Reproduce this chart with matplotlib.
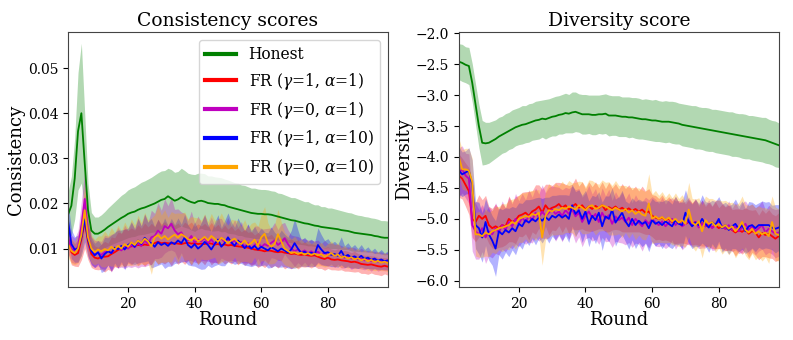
import numpy as np
import matplotlib
matplotlib.use("Agg")
import matplotlib.pyplot as plt

plt.rcParams['font.family'] = ['DejaVu Serif']
plt.rcParams['mathtext.fontset'] = 'dejavuserif'

rounds = np.arange(2, 99)

labels = ['Honest', r'FR ($\gamma$=1, $\alpha$=1)', r'FR ($\gamma$=0, $\alpha$=1)',
          r'FR ($\gamma$=1, $\alpha$=10)', r'FR ($\gamma$=0, $\alpha$=10)']
colors = ['green', 'red', 'm', 'blue', 'orange']

# ---- consistency (mean / std per round) ----
cons_honest = [0.0175, 0.0195, 0.0255, 0.0360, 0.0400, 0.0290, 0.0185, 0.0140, 0.0133, 0.0133,
               0.0137, 0.0142, 0.0148, 0.0153, 0.0158, 0.0163, 0.0168, 0.0172, 0.0177, 0.0180,
               0.0182, 0.0186, 0.0189, 0.0191, 0.0194, 0.0197, 0.0200, 0.0204, 0.0208, 0.0210,
               0.0216, 0.0211, 0.0206, 0.0209, 0.0214, 0.0210, 0.0206, 0.0203, 0.0201, 0.0205,
               0.0206, 0.0204, 0.0201, 0.0200, 0.0199, 0.0199, 0.0197, 0.0196, 0.0193, 0.0191,
               0.0189, 0.0187, 0.0185, 0.0183, 0.0181, 0.0179, 0.0178, 0.0177, 0.0177, 0.0176,
               0.0176, 0.0175, 0.0173, 0.0171, 0.0169, 0.0167, 0.0165, 0.0163, 0.0162, 0.0160,
               0.0158, 0.0156, 0.0155, 0.0153, 0.0151, 0.0150, 0.0148, 0.0147, 0.0146, 0.0145,
               0.0144, 0.0143, 0.0141, 0.0140, 0.0139, 0.0137, 0.0135, 0.0134, 0.0133, 0.0132,
               0.0131, 0.0130, 0.0128, 0.0127, 0.0125, 0.0124, 0.0124]
cons_honest_sd = [0.0050, 0.0065, 0.0090, 0.0130, 0.0155, 0.0110, 0.0060, 0.0040, 0.0037, 0.0037,
                  0.0038, 0.0040, 0.0042, 0.0044, 0.0046, 0.0048, 0.0050, 0.0051, 0.0053, 0.0054,
                  0.0055, 0.0056, 0.0058, 0.0059, 0.0060, 0.0061, 0.0063, 0.0064, 0.0064, 0.0063,
                  0.0062, 0.0064, 0.0063, 0.0062, 0.0064, 0.0063, 0.0061, 0.0062, 0.0063, 0.0062,
                  0.0061, 0.0062, 0.0060, 0.0061, 0.0060, 0.0059, 0.0060, 0.0058, 0.0059, 0.0058,
                  0.0057, 0.0058, 0.0056, 0.0057, 0.0056, 0.0055, 0.0056, 0.0055, 0.0054, 0.0055,
                  0.0054, 0.0053, 0.0054, 0.0052, 0.0053, 0.0052, 0.0051, 0.0050, 0.0051, 0.0050,
                  0.0049, 0.0048, 0.0049, 0.0047, 0.0046, 0.0047, 0.0045, 0.0046, 0.0044, 0.0045,
                  0.0044, 0.0043, 0.0043, 0.0042, 0.0041, 0.0042, 0.0041, 0.0040, 0.0040, 0.0039,
                  0.0039, 0.0038, 0.0039, 0.0038, 0.0037, 0.0038, 0.0037]

cons_g1_a1 = [0.0120, 0.0092, 0.0086, 0.0090, 0.0120, 0.0160, 0.0115, 0.0088, 0.0080, 0.0078,
              0.0082, 0.0082, 0.0083, 0.0088, 0.0092, 0.0097, 0.0100, 0.0102, 0.0104, 0.0105,
              0.0106, 0.0108, 0.0107, 0.0109, 0.0108, 0.0110, 0.0112, 0.0115, 0.0112, 0.0113,
              0.0112, 0.0111, 0.0112, 0.0111, 0.0110, 0.0112, 0.0113, 0.0111, 0.0112, 0.0110,
              0.0111, 0.0110, 0.0112, 0.0111, 0.0109, 0.0110, 0.0108, 0.0109, 0.0107, 0.0108,
              0.0106, 0.0105, 0.0104, 0.0103, 0.0102, 0.0100, 0.0098, 0.0097, 0.0096, 0.0094,
              0.0096, 0.0095, 0.0093, 0.0092, 0.0093, 0.0091, 0.0090, 0.0088, 0.0089, 0.0087,
              0.0086, 0.0087, 0.0085, 0.0084, 0.0085, 0.0082, 0.0079, 0.0077, 0.0080, 0.0076,
              0.0075, 0.0076, 0.0074, 0.0073, 0.0072, 0.0070, 0.0071, 0.0069, 0.0066, 0.0065,
              0.0064, 0.0065, 0.0063, 0.0061, 0.0060, 0.0062, 0.0060]
cons_g1_a1_sd = [0.0030, 0.0028, 0.0025, 0.0030, 0.0045, 0.0060, 0.0040, 0.0030, 0.0026, 0.0025,
                 0.0028, 0.0034, 0.0029, 0.0038, 0.0032, 0.0040, 0.0034, 0.0043, 0.0036, 0.0041,
                 0.0035, 0.0045, 0.0038, 0.0048, 0.0040, 0.0046, 0.0037, 0.0050, 0.0042, 0.0047,
                 0.0040, 0.0049, 0.0039, 0.0046, 0.0038, 0.0047, 0.0040, 0.0048, 0.0037, 0.0045,
                 0.0039, 0.0046, 0.0036, 0.0047, 0.0038, 0.0044, 0.0035, 0.0043, 0.0036, 0.0042,
                 0.0034, 0.0041, 0.0033, 0.0040, 0.0034, 0.0038, 0.0032, 0.0039, 0.0033, 0.0036,
                 0.0031, 0.0037, 0.0030, 0.0035, 0.0029, 0.0036, 0.0030, 0.0033, 0.0028, 0.0032,
                 0.0026, 0.0028, 0.0025, 0.0027, 0.0024, 0.0026, 0.0023, 0.0025, 0.0024, 0.0023,
                 0.0022, 0.0024, 0.0021, 0.0023, 0.0022, 0.0021, 0.0023, 0.0020, 0.0021, 0.0020,
                 0.0021, 0.0019, 0.0020, 0.0019, 0.0020, 0.0018, 0.0019]

cons_g0_a1 = [0.0125, 0.0100, 0.0095, 0.0105, 0.0150, 0.0210, 0.0130, 0.0095, 0.0088, 0.0090,
              0.0086, 0.0092, 0.0095, 0.0090, 0.0098, 0.0102, 0.0096, 0.0104, 0.0100, 0.0108,
              0.0103, 0.0112, 0.0106, 0.0118, 0.0110, 0.0125, 0.0128, 0.0140, 0.0133, 0.0150,
              0.0145, 0.0155, 0.0140, 0.0132, 0.0136, 0.0124, 0.0118, 0.0128, 0.0113, 0.0120,
              0.0116, 0.0124, 0.0112, 0.0120, 0.0110, 0.0118, 0.0123, 0.0114, 0.0121, 0.0112,
              0.0118, 0.0110, 0.0115, 0.0104, 0.0112, 0.0100, 0.0108, 0.0114, 0.0103, 0.0110,
              0.0106, 0.0113, 0.0118, 0.0108, 0.0114, 0.0123, 0.0110, 0.0100, 0.0094, 0.0098,
              0.0092, 0.0096, 0.0090, 0.0094, 0.0089, 0.0093, 0.0087, 0.0091, 0.0086, 0.0089,
              0.0084, 0.0087, 0.0082, 0.0080, 0.0083, 0.0078, 0.0080, 0.0076, 0.0078, 0.0074,
              0.0076, 0.0072, 0.0075, 0.0071, 0.0073, 0.0070, 0.0072]
cons_g0_a1_sd = [0.0035, 0.0030, 0.0028, 0.0035, 0.0055, 0.0065, 0.0045, 0.0032, 0.0030, 0.0028,
                 0.0030, 0.0038, 0.0032, 0.0042, 0.0035, 0.0045, 0.0037, 0.0048, 0.0040, 0.0050,
                 0.0042, 0.0055, 0.0045, 0.0058, 0.0047, 0.0060, 0.0050, 0.0062, 0.0052, 0.0060,
                 0.0050, 0.0058, 0.0047, 0.0056, 0.0045, 0.0054, 0.0044, 0.0055, 0.0043, 0.0052,
                 0.0042, 0.0051, 0.0040, 0.0050, 0.0041, 0.0049, 0.0044, 0.0039, 0.0048, 0.0038,
                 0.0046, 0.0037, 0.0045, 0.0036, 0.0043, 0.0035, 0.0042, 0.0036, 0.0040, 0.0034,
                 0.0039, 0.0033, 0.0040, 0.0034, 0.0041, 0.0035, 0.0032, 0.0030, 0.0034, 0.0029,
                 0.0030, 0.0026, 0.0029, 0.0025, 0.0028, 0.0026, 0.0024, 0.0027, 0.0025, 0.0023,
                 0.0026, 0.0022, 0.0025, 0.0023, 0.0021, 0.0024, 0.0022, 0.0020, 0.0023, 0.0021,
                 0.0020, 0.0022, 0.0019, 0.0021, 0.0020, 0.0019, 0.0020]

cons_g1_a10 = [0.0162, 0.0110, 0.0098, 0.0100, 0.0125, 0.0165, 0.0120, 0.0095, 0.0085, 0.0092,
               0.0078, 0.0088, 0.0094, 0.0090, 0.0102, 0.0099, 0.0106, 0.0098, 0.0108, 0.0113,
               0.0104, 0.0118, 0.0110, 0.0124, 0.0116, 0.0112, 0.0104, 0.0114, 0.0108, 0.0112,
               0.0106, 0.0114, 0.0110, 0.0118, 0.0112, 0.0124, 0.0108, 0.0102, 0.0110, 0.0100,
               0.0106, 0.0115, 0.0108, 0.0098, 0.0110, 0.0120, 0.0104, 0.0112, 0.0125, 0.0114,
               0.0106, 0.0118, 0.0110, 0.0101, 0.0108, 0.0100, 0.0106, 0.0098, 0.0104, 0.0100,
               0.0096, 0.0103, 0.0099, 0.0094, 0.0100, 0.0096, 0.0091, 0.0098, 0.0112, 0.0100,
               0.0090, 0.0093, 0.0088, 0.0091, 0.0087, 0.0108, 0.0098, 0.0090, 0.0092, 0.0086,
               0.0088, 0.0084, 0.0095, 0.0082, 0.0086, 0.0080, 0.0083, 0.0078, 0.0084, 0.0077,
               0.0080, 0.0075, 0.0078, 0.0073, 0.0076, 0.0072, 0.0074]
cons_g1_a10_sd = [0.0040, 0.0032, 0.0028, 0.0030, 0.0040, 0.0050, 0.0038, 0.0030, 0.0027, 0.0026,
                  0.0031, 0.0037, 0.0030, 0.0040, 0.0034, 0.0042, 0.0035, 0.0045, 0.0037, 0.0047,
                  0.0039, 0.0050, 0.0040, 0.0053, 0.0043, 0.0055, 0.0044, 0.0051, 0.0042, 0.0056,
                  0.0045, 0.0053, 0.0043, 0.0050, 0.0042, 0.0052, 0.0044, 0.0040, 0.0049, 0.0043,
                  0.0052, 0.0060, 0.0045, 0.0040, 0.0048, 0.0055, 0.0042, 0.0050, 0.0054, 0.0045,
                  0.0041, 0.0050, 0.0043, 0.0038, 0.0046, 0.0040, 0.0043, 0.0037, 0.0042, 0.0036,
                  0.0039, 0.0045, 0.0037, 0.0035, 0.0041, 0.0036, 0.0034, 0.0042, 0.0055, 0.0041,
                  0.0029, 0.0032, 0.0028, 0.0030, 0.0027, 0.0038, 0.0033, 0.0028, 0.0030, 0.0026,
                  0.0028, 0.0025, 0.0031, 0.0024, 0.0027, 0.0023, 0.0026, 0.0022, 0.0025, 0.0021,
                  0.0024, 0.0020, 0.0023, 0.0019, 0.0022, 0.0018, 0.0021]

cons_g0_a10 = [0.0110, 0.0095, 0.0090, 0.0100, 0.0130, 0.0185, 0.0125, 0.0100, 0.0092, 0.0098,
               0.0094, 0.0099, 0.0096, 0.0104, 0.0098, 0.0106, 0.0100, 0.0110, 0.0104, 0.0114,
               0.0108, 0.0118, 0.0112, 0.0122, 0.0116, 0.0105, 0.0125, 0.0130, 0.0122, 0.0128,
               0.0120, 0.0126, 0.0131, 0.0124, 0.0132, 0.0127, 0.0121, 0.0118, 0.0125, 0.0116,
               0.0120, 0.0126, 0.0118, 0.0128, 0.0122, 0.0115, 0.0124, 0.0119, 0.0112, 0.0118,
               0.0122, 0.0114, 0.0110, 0.0118, 0.0108, 0.0112, 0.0120, 0.0106, 0.0125, 0.0133,
               0.0112, 0.0104, 0.0110, 0.0132, 0.0116, 0.0100, 0.0095, 0.0090, 0.0092, 0.0088,
               0.0091, 0.0087, 0.0090, 0.0086, 0.0089, 0.0085, 0.0088, 0.0082, 0.0086, 0.0090,
               0.0084, 0.0087, 0.0080, 0.0083, 0.0078, 0.0081, 0.0076, 0.0079, 0.0074, 0.0077,
               0.0072, 0.0075, 0.0070, 0.0073, 0.0069, 0.0071, 0.0068]
cons_g0_a10_sd = [0.0030, 0.0028, 0.0026, 0.0032, 0.0045, 0.0055, 0.0040, 0.0031, 0.0028, 0.0030,
                  0.0034, 0.0040, 0.0033, 0.0043, 0.0037, 0.0046, 0.0039, 0.0049, 0.0041, 0.0052,
                  0.0044, 0.0056, 0.0046, 0.0058, 0.0048, 0.0062, 0.0050, 0.0064, 0.0052, 0.0058,
                  0.0049, 0.0056, 0.0047, 0.0055, 0.0046, 0.0054, 0.0045, 0.0053, 0.0044, 0.0052,
                  0.0043, 0.0051, 0.0042, 0.0050, 0.0041, 0.0049, 0.0055, 0.0044, 0.0040, 0.0047,
                  0.0041, 0.0048, 0.0039, 0.0046, 0.0038, 0.0044, 0.0039, 0.0043, 0.0052, 0.0060,
                  0.0045, 0.0038, 0.0042, 0.0055, 0.0043, 0.0036, 0.0034, 0.0031, 0.0035, 0.0030,
                  0.0029, 0.0026, 0.0028, 0.0025, 0.0027, 0.0024, 0.0026, 0.0023, 0.0025, 0.0027,
                  0.0024, 0.0026, 0.0022, 0.0024, 0.0021, 0.0023, 0.0020, 0.0022, 0.0019, 0.0021,
                  0.0020, 0.0022, 0.0019, 0.0021, 0.0018, 0.0020, 0.0019]

# ---- diversity (mean / std per round) ----
div_honest = [-2.46, -2.48, -2.51, -2.53, -2.80, -3.15, -3.50, -3.77, -3.78, -3.77,
              -3.74, -3.71, -3.67, -3.64, -3.61, -3.58, -3.55, -3.52, -3.50, -3.48,
              -3.47, -3.45, -3.43, -3.41, -3.40, -3.38, -3.39, -3.37, -3.35, -3.34,
              -3.32, -3.31, -3.29, -3.30, -3.28, -3.27, -3.29, -3.31, -3.31, -3.31,
              -3.32, -3.32, -3.31, -3.31, -3.30, -3.33, -3.33, -3.33, -3.34, -3.35,
              -3.35, -3.36, -3.36, -3.37, -3.38, -3.39, -3.39, -3.40, -3.41, -3.41,
              -3.42, -3.43, -3.43, -3.43, -3.44, -3.45, -3.46, -3.48, -3.49, -3.50,
              -3.51, -3.52, -3.53, -3.54, -3.55, -3.56, -3.57, -3.58, -3.59, -3.60,
              -3.61, -3.62, -3.63, -3.64, -3.65, -3.66, -3.67, -3.68, -3.69, -3.70,
              -3.71, -3.72, -3.73, -3.75, -3.77, -3.79, -3.81]
div_honest_sd = [0.29, 0.30, 0.29, 0.30, 0.31, 0.33, 0.35, 0.36, 0.34, 0.33,
                 0.32, 0.31, 0.31, 0.30, 0.31, 0.30, 0.31, 0.30, 0.30, 0.31,
                 0.30, 0.31, 0.30, 0.31, 0.31, 0.30, 0.32, 0.31, 0.31, 0.32,
                 0.31, 0.32, 0.32, 0.31, 0.33, 0.32, 0.31, 0.32, 0.32, 0.31,
                 0.32, 0.32, 0.31, 0.32, 0.32, 0.33, 0.32, 0.32, 0.33, 0.32,
                 0.32, 0.33, 0.32, 0.33, 0.33, 0.32, 0.33, 0.33, 0.33, 0.34,
                 0.33, 0.33, 0.34, 0.33, 0.34, 0.34, 0.33, 0.34, 0.34, 0.34,
                 0.34, 0.35, 0.34, 0.34, 0.35, 0.35, 0.34, 0.35, 0.35, 0.35,
                 0.35, 0.35, 0.36, 0.35, 0.35, 0.36, 0.36, 0.35, 0.36, 0.36,
                 0.36, 0.36, 0.37, 0.36, 0.36, 0.37, 0.36]

div_g1_a1 = [-4.30, -4.35, -4.45, -4.55, -5.00, -5.05, -4.95, -5.00, -4.95, -5.10,
             -5.15, -5.12, -5.15, -5.10, -5.12, -5.00, -5.05, -5.02, -4.95, -4.93,
             -4.90, -4.95, -4.88, -4.85, -4.80, -4.90, -4.78, -4.85, -4.82, -4.80,
             -4.76, -4.82, -4.78, -4.85, -4.80, -4.76, -4.82, -4.78, -4.85, -4.80,
             -4.84, -4.79, -4.83, -4.78, -4.86, -4.81, -4.84, -4.80, -4.85, -4.82,
             -4.86, -4.83, -4.87, -4.84, -4.88, -4.85, -4.90, -4.88, -4.95, -4.98,
             -5.00, -4.98, -5.02, -5.00, -5.05, -5.02, -5.06, -5.03, -5.08, -5.05,
             -5.08, -5.05, -5.10, -5.07, -5.12, -5.09, -5.14, -5.10, -5.15, -5.12,
             -5.16, -5.14, -5.18, -5.22, -5.18, -5.21, -5.17, -5.24, -5.20, -5.22,
             -5.30, -5.23, -5.26, -5.24, -5.28, -5.32, -5.28]
div_g1_a1_sd = [0.35, 0.33, 0.35, 0.38, 0.30, 0.32, 0.34, 0.31, 0.33, 0.30,
                0.32, 0.36, 0.31, 0.35, 0.30, 0.37, 0.32, 0.38, 0.33, 0.36,
                0.34, 0.39, 0.33, 0.40, 0.35, 0.38, 0.34, 0.41, 0.36, 0.39,
                0.35, 0.40, 0.34, 0.39, 0.36, 0.42, 0.35, 0.38, 0.34, 0.40,
                0.36, 0.39, 0.33, 0.38, 0.35, 0.40, 0.34, 0.37, 0.33, 0.39,
                0.35, 0.38, 0.34, 0.37, 0.33, 0.38, 0.35, 0.37, 0.34, 0.36,
                0.33, 0.37, 0.32, 0.36, 0.34, 0.38, 0.33, 0.36, 0.32, 0.37,
                0.34, 0.36, 0.33, 0.37, 0.32, 0.36, 0.34, 0.38, 0.33, 0.36,
                0.35, 0.37, 0.33, 0.38, 0.34, 0.36, 0.35, 0.39, 0.34, 0.37,
                0.36, 0.38, 0.35, 0.39, 0.36, 0.37, 0.38]

div_g0_a1 = [-4.25, -4.20, -4.30, -4.35, -5.10, -5.20, -5.25, -5.15, -5.30, -5.20,
             -5.25, -5.15, -5.22, -5.10, -5.18, -5.05, -5.12, -5.00, -5.08, -4.98,
             -5.05, -4.95, -5.02, -4.90, -4.98, -4.88, -4.95, -4.90, -4.85, -4.92,
             -4.88, -4.95, -4.86, -4.92, -4.85, -4.96, -4.90, -5.05, -4.95, -4.88,
             -4.98, -4.92, -5.05, -4.90, -5.00, -4.94, -5.08, -4.96, -5.02, -4.98,
             -5.05, -4.98, -5.10, -5.00, -5.06, -5.12, -5.02, -5.08, -5.00, -5.06,
             -5.10, -5.04, -5.12, -5.06, -5.00, -5.10, -5.05, -5.12, -5.08, -5.02,
             -5.10, -5.05, -5.14, -5.08, -5.12, -5.06, -5.15, -5.10, -5.05, -5.12,
             -5.16, -5.10, -5.18, -5.12, -5.20, -5.14, -5.08, -5.18, -5.12, -5.20,
             -5.15, -5.10, -5.22, -5.16, -5.20, -5.24, -5.22]
div_g0_a1_sd = [0.40, 0.38, 0.36, 0.40, 0.42, 0.45, 0.40, 0.38, 0.42, 0.40,
                0.38, 0.41, 0.36, 0.39, 0.35, 0.40, 0.36, 0.41, 0.37, 0.39,
                0.36, 0.42, 0.37, 0.40, 0.38, 0.43, 0.37, 0.41, 0.38, 0.44,
                0.39, 0.42, 0.37, 0.41, 0.38, 0.43, 0.39, 0.40, 0.37, 0.42,
                0.38, 0.41, 0.36, 0.40, 0.37, 0.42, 0.38, 0.40, 0.36, 0.41,
                0.37, 0.40, 0.36, 0.39, 0.35, 0.40, 0.37, 0.39, 0.36, 0.38,
                0.35, 0.39, 0.36, 0.38, 0.34, 0.39, 0.35, 0.38, 0.36, 0.37,
                0.35, 0.38, 0.34, 0.39, 0.35, 0.37, 0.36, 0.40, 0.35, 0.38,
                0.36, 0.39, 0.35, 0.38, 0.36, 0.40, 0.37, 0.39, 0.36, 0.38,
                0.37, 0.39, 0.36, 0.38, 0.37, 0.39, 0.38]

div_g1_a10 = [-4.22, -4.28, -4.25, -4.22, -4.45, -5.10, -5.15, -5.30, -5.05, -5.25,
              -5.35, -5.48, -5.20, -5.25, -5.18, -5.22, -5.15, -5.20, -5.08, -5.12,
              -5.02, -5.06, -5.00, -5.04, -4.98, -5.03, -4.97, -5.02, -4.95, -4.98,
              -4.93, -4.98, -4.94, -5.00, -4.78, -4.92, -4.86, -5.00, -4.88, -5.08,
              -4.95, -5.02, -4.90, -5.12, -4.96, -5.00, -4.85, -5.06, -4.98, -4.90,
              -5.04, -5.12, -5.00, -5.10, -5.03, -5.08, -5.05, -5.15, -5.02, -5.08,
              -5.05, -5.10, -5.04, -5.08, -5.12, -5.02, -5.08, -5.10, -4.90, -5.05,
              -5.12, -5.06, -5.10, -5.00, -5.08, -5.14, -5.05, -5.10, -5.00, -5.15,
              -5.10, -5.18, -5.12, -5.08, -5.16, -5.10, -5.20, -5.12, -5.10, -5.15,
              -5.10, -5.10, -5.10, -5.10, -5.14, -5.16, -5.14]
div_g1_a10_sd = [0.38, 0.36, 0.35, 0.37, 0.40, 0.38, 0.42, 0.40, 0.38, 0.42,
                 0.40, 0.45, 0.38, 0.40, 0.36, 0.39, 0.35, 0.38, 0.34, 0.37,
                 0.33, 0.37, 0.32, 0.38, 0.33, 0.36, 0.32, 0.37, 0.33, 0.36,
                 0.32, 0.37, 0.33, 0.38, 0.34, 0.36, 0.33, 0.38, 0.34, 0.37,
                 0.33, 0.38, 0.34, 0.39, 0.33, 0.37, 0.35, 0.38, 0.34, 0.36,
                 0.33, 0.37, 0.34, 0.38, 0.35, 0.37, 0.34, 0.38, 0.35, 0.36,
                 0.34, 0.38, 0.35, 0.37, 0.36, 0.39, 0.34, 0.38, 0.37, 0.35,
                 0.36, 0.38, 0.35, 0.39, 0.36, 0.40, 0.35, 0.38, 0.36, 0.39,
                 0.37, 0.39, 0.36, 0.40, 0.37, 0.39, 0.36, 0.40, 0.37, 0.38,
                 0.36, 0.39, 0.37, 0.38, 0.36, 0.39, 0.37]

div_g0_a10 = [-4.00, -4.20, -4.20, -4.22, -4.40, -5.25, -5.25, -5.28, -5.22, -5.25,
              -5.20, -5.18, -5.15, -5.14, -5.12, -5.10, -5.05, -5.08, -5.00, -4.98,
              -4.95, -4.97, -4.92, -4.94, -4.90, -5.30, -4.95, -4.86, -4.88, -4.84,
              -4.86, -4.82, -4.84, -4.80, -4.82, -4.85, -4.78, -4.82, -4.86, -4.80,
              -4.78, -4.84, -4.82, -4.78, -4.80, -4.83, -4.86, -4.82, -4.85, -4.88,
              -4.84, -4.90, -4.86, -4.92, -4.88, -4.93, -4.95, -4.75, -5.00, -4.96,
              -5.00, -4.97, -5.02, -4.98, -5.04, -5.00, -5.06, -5.02, -5.08, -4.85,
              -5.06, -5.10, -5.04, -5.20, -5.02, -5.08, -5.05, -5.12, -5.08, -5.14,
              -5.10, -5.16, -5.12, -5.20, -5.14, -5.05, -5.18, -5.22, -5.16, -5.24,
              -5.20, -5.25, -5.22, -5.28, -5.05, -5.24, -5.26]
div_g0_a10_sd = [0.30, 0.32, 0.34, 0.36, 0.38, 0.35, 0.37, 0.34, 0.38, 0.36,
                 0.34, 0.38, 0.35, 0.39, 0.36, 0.40, 0.37, 0.41, 0.38, 0.40,
                 0.37, 0.42, 0.38, 0.41, 0.37, 0.45, 0.39, 0.43, 0.38, 0.42,
                 0.39, 0.43, 0.38, 0.42, 0.40, 0.44, 0.39, 0.42, 0.38, 0.43,
                 0.40, 0.42, 0.38, 0.41, 0.39, 0.43, 0.40, 0.44, 0.39, 0.42,
                 0.38, 0.41, 0.37, 0.42, 0.38, 0.40, 0.39, 0.48, 0.40, 0.42,
                 0.38, 0.41, 0.37, 0.40, 0.38, 0.42, 0.39, 0.41, 0.38, 0.44,
                 0.39, 0.42, 0.38, 0.43, 0.39, 0.41, 0.38, 0.42, 0.39, 0.43,
                 0.40, 0.42, 0.39, 0.43, 0.40, 0.42, 0.41, 0.44, 0.40, 0.42,
                 0.41, 0.43, 0.40, 0.44, 0.42, 0.43, 0.42]

cons_means = [cons_honest, cons_g1_a1, cons_g0_a1, cons_g1_a10, cons_g0_a10]
cons_sds = [cons_honest_sd, cons_g1_a1_sd, cons_g0_a1_sd, cons_g1_a10_sd, cons_g0_a10_sd]
div_means = [div_honest, div_g1_a1, div_g0_a1, div_g1_a10, div_g0_a10]
div_sds = [div_honest_sd, div_g1_a1_sd, div_g0_a1_sd, div_g1_a10_sd, div_g0_a10_sd]

fig, (ax1, ax2) = plt.subplots(1, 2, figsize=(7.93, 3.40), dpi=100)
fig.subplots_adjust(left=0.0858, right=0.982, bottom=0.156, top=0.906, wspace=0.222)


def draw(ax, means, sds):
    for i in range(len(means)):
        m = np.array(means[i])
        s = np.array(sds[i])
        ax.fill_between(rounds, m - s, m + s, color=colors[i], alpha=0.3, linewidth=0)
        ax.plot(rounds, m, color=colors[i], linewidth=1.3, label=labels[i])
    ax.set_xlim(2, 98)
    ax.set_xticks([20, 40, 60, 80])
    ax.set_xlabel('Round', fontsize=13, labelpad=0)
    ax.tick_params(labelsize=10)
    for sp in ax.spines.values():
        sp.set_color('#444444')


draw(ax1, cons_means, cons_sds)
ax1.set_ylim(0.0015, 0.058)
ax1.set_yticks([0.01, 0.02, 0.03, 0.04, 0.05])
ax1.set_title('Consistency scores', fontsize=13.5, pad=4)
ax1.set_ylabel('Consistency', fontsize=13, labelpad=2)
leg = ax1.legend(loc='upper right', fontsize=11.2)
for h in leg.legend_handles:
    h.set_linewidth(3)

draw(ax2, div_means, div_sds)
ax2.set_ylim(-6.1, -1.98)
ax2.set_title('Diversity score', fontsize=13.5, pad=4)
ax2.set_ylabel('Diversity', fontsize=13, labelpad=2)

fig.savefig('out.png', dpi=100)
